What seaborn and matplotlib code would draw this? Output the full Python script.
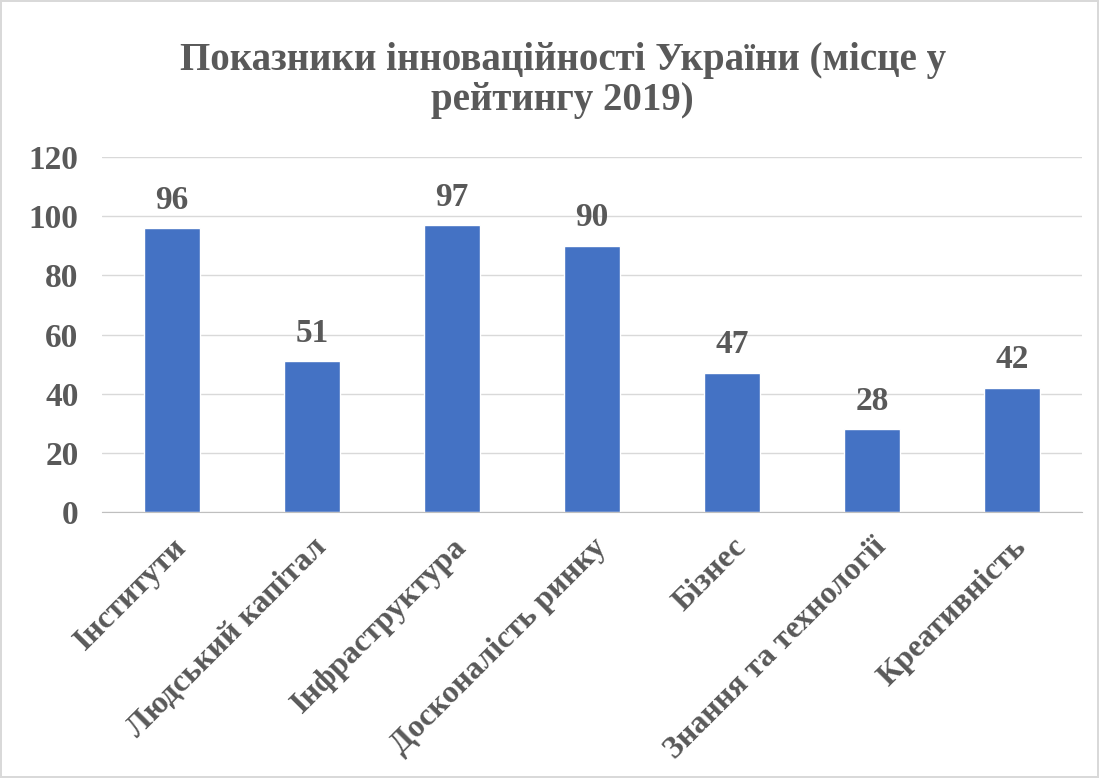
import pandas as pd
import matplotlib.pyplot as plt
import seaborn as sns

categories = ["Інститути", "Людський капітал", "Інфраструктура", "Досконалість ринку",
              "Бізнес", "Знання та технології", "Креативність"]
values = [96, 51, 97, 90, 47, 28, 42]
y_ticks = [0, 20, 40, 60, 80, 100, 120]

TEXT = "#595959"
BAR = "#4472C4"

sns.set_style("white")
plt.rcParams["font.family"] = ["Liberation Serif", "DejaVu Serif"]
plt.rcParams["font.weight"] = "bold"

df = pd.DataFrame({"cat": categories, "val": values})

fig = plt.figure(figsize=(10.99, 7.78), dpi=100)
fig.patch.set_edgecolor("#d9d9d9")
fig.patch.set_linewidth(1.5)
ax = fig.add_axes([0.0928, 0.342, 0.8917, 0.456])

sns.barplot(data=df, x="cat", y="val", color=BAR, width=0.4, saturation=1, ax=ax)

ax.set_ylim(0, 120)
ax.set_xlim(-0.5, len(categories) - 0.5)
ax.set_yticks(y_ticks)
ax.yaxis.grid(True, color="#d9d9d9", linewidth=1)
ax.set_axisbelow(True)
for s in ["top", "right", "left"]:
    ax.spines[s].set_visible(False)
ax.spines["bottom"].set_color("#bfbfbf")
ax.set_xlabel("")
ax.set_ylabel("")
ax.tick_params(axis="both", length=0, labelcolor=TEXT)
ax.tick_params(axis="y", pad=17, labelsize=24)
ax.tick_params(axis="x", pad=15, labelsize=23)
plt.setp(ax.get_xticklabels(), rotation=45, ha="right", rotation_mode="anchor", fontweight="bold")
plt.setp(ax.get_yticklabels(), fontweight="bold")

ax.bar_label(ax.containers[0], labels=[str(v) for v in values], padding=9,
             fontsize=24, fontweight="bold", color=TEXT)

fig.text(0.512, 0.946, "Показники інноваційності України (місце у\nрейтингу 2019)",
         ha="center", va="top", fontsize=28, fontweight="bold", color=TEXT,
         linespacing=1.1)

fig.savefig("out.png", dpi=100, edgecolor=fig.get_edgecolor())
